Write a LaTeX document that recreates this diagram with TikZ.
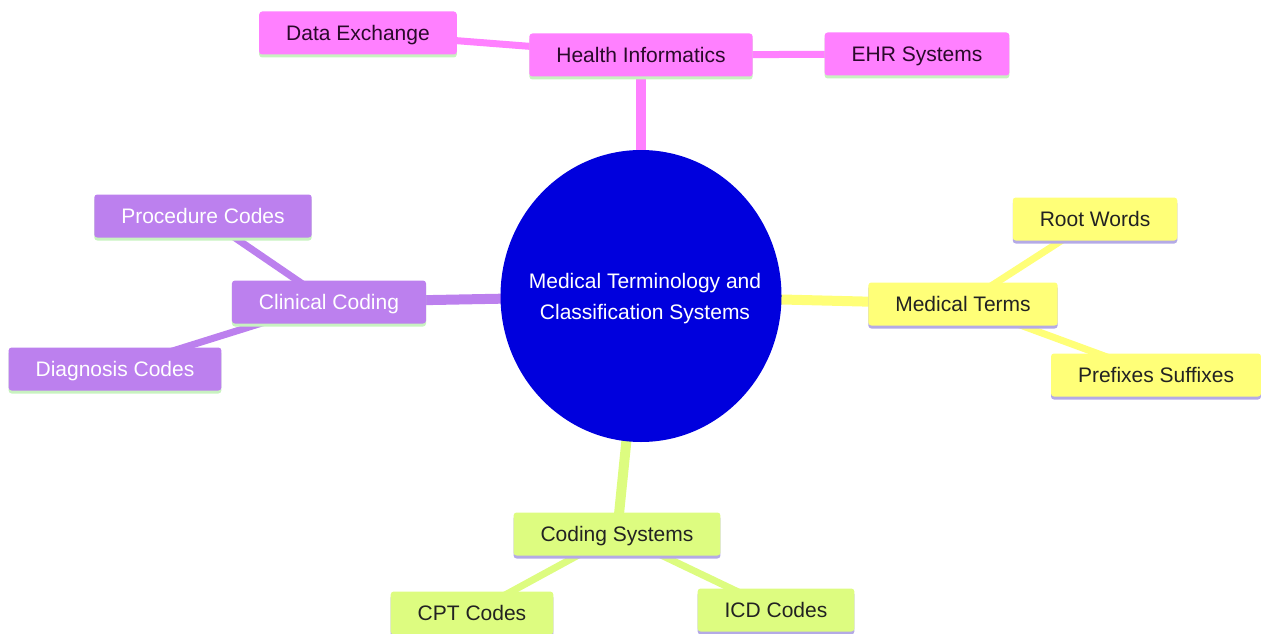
\documentclass[tikz,border=0pt]{standalone}
\usepackage{fontspec}
\setmainfont{Liberation Sans}
\usetikzlibrary{shadows,backgrounds,shapes.geometric}
\definecolor{pinkc}{HTML}{FF80FF}
\definecolor{purpc}{HTML}{BC80EE}
\definecolor{yellc}{HTML}{FFFF78}
\definecolor{greenc}{HTML}{DDFC80}
\definecolor{bluec}{HTML}{0000DD}
\definecolor{shgreen}{HTML}{C8F2C0}
\definecolor{shlav}{HTML}{B4AAE6}
\definecolor{darktxt}{HTML}{2A0A2A}
\definecolor{darktxt2}{HTML}{222222}
\tikzset{
  box/.style={rectangle, rounded corners=3pt, inner xsep=27pt, inner ysep=0pt,
    minimum height=43pt, text height=19pt, text depth=4pt,
    font=\fontsize{21}{25}\selectfont},
  pinkbox/.style={box, fill=pinkc, text=darktxt,
    drop shadow={shadow xshift=0pt, shadow yshift=-3pt, fill=shgreen, opacity=1}},
  purpbox/.style={box, fill=purpc, text=white,
    drop shadow={shadow xshift=0pt, shadow yshift=-3pt, fill=shgreen, opacity=1}},
  yellbox/.style={box, fill=yellc, text=darktxt2,
    drop shadow={shadow xshift=0pt, shadow yshift=-3pt, fill=shlav, opacity=1}},
  greenbox/.style={box, fill=greenc, text=darktxt2,
    drop shadow={shadow xshift=0pt, shadow yshift=-3pt, fill=shlav, opacity=1}},
  rootedge/.style={line width=10pt},
  childedge/.style={line width=7pt}
}
\begin{document}
\begin{tikzpicture}[x=1pt,y=-1pt]
\useasboundingbox (0,0) rectangle (1261,634);
\node[ellipse, fill=bluec, minimum width=281pt, minimum height=292pt, inner sep=0pt] (root) at (641,296) {};
\node[text=white, align=center, font=\fontsize{21}{31}\selectfont] (roottxt) at (645,299)
  {Medical Terminology and\\Classification Systems};
\node[pinkbox] (hi) at (641,55) {Health Informatics};
\node[pinkbox] (de) at (358,33) {Data Exchange};
\node[pinkbox] (ehr) at (917,54) {EHR Systems};
\node[purpbox] (cc) at (329,302) {Clinical Coding};
\node[purpbox] (pc) at (203,216) {Procedure Codes};
\node[purpbox] (dc) at (115,369) {Diagnosis Codes};
\node[yellbox] (mt) at (963,304) {Medical Terms};
\node[yellbox] (rw) at (1095,219) {Root Words};
\node[yellbox] (ps) at (1156,375) {Prefixes Suffixes};
\node[greenbox] (cs) at (617,534) {Coding Systems};
\node[greenbox] (cpt) at (472,613) {CPT Codes};
\node[greenbox] (icd) at (776,610) {ICD Codes};
\begin{pgfonlayer}{background}
\draw[rootedge, pinkc] (root.center) -- (hi.center);
\draw[rootedge, purpc] (root.center) -- (cc.center);
\draw[rootedge, yellc] (root.center) -- (mt.center);
\draw[rootedge, greenc] (root.center) -- (cs.center);
\draw[childedge, pinkc] (hi.center) -- (de.center);
\draw[childedge, pinkc] (hi.center) -- (ehr.center);
\draw[childedge, purpc] (cc.center) -- (pc.center);
\draw[childedge, purpc] (cc.center) -- (dc.center);
\draw[childedge, yellc] (mt.center) -- (rw.center);
\draw[childedge, yellc] (mt.center) -- (ps.center);
\draw[childedge, greenc] (cs.center) -- (cpt.center);
\draw[childedge, greenc] (cs.center) -- (icd.center);
\end{pgfonlayer}
\end{tikzpicture}
\end{document}
